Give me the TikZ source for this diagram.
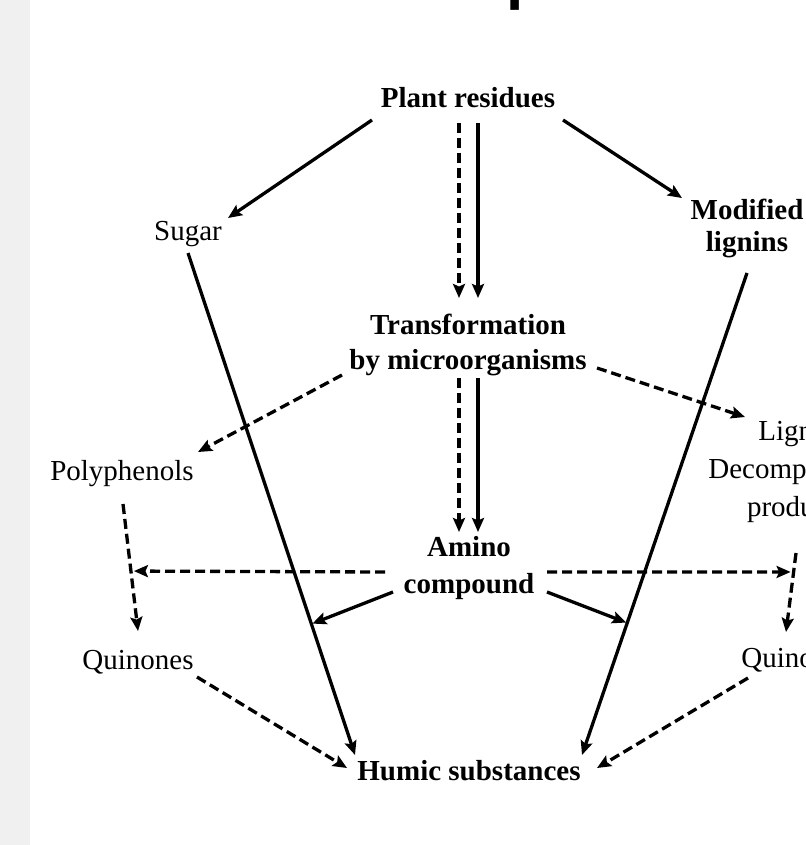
\documentclass[tikz,border=0pt]{standalone}
\usepackage{fontspec}
\setmainfont{Liberation Serif}
\newfontfamily\titlefont{Liberation Sans}
\usetikzlibrary{arrows.meta,calc}
\definecolor{stripgray}{HTML}{F0F0F0}
\begin{document}
\begin{tikzpicture}[x=1pt,y=-1pt,
  lbl/.style={inner sep=0pt, font=\fontsize{29}{33}\selectfont},
  blbl/.style={inner sep=0pt, font=\fontsize{29}{33}\selectfont\bfseries},
  conn/.style={line width=3.3pt, -{Stealth[length=14pt,width=12pt,inset=2.5pt]}},
  dconn/.style={conn, dash pattern=on 10pt off 5pt},
]
\fill[white] (0,0) rectangle (805,845);
\fill[stripgray] (0,0) rectangle (30,845);
\useasboundingbox (0,0) rectangle (805,845);
\begin{scope}
\clip (0,0) rectangle (805,845);
\node[anchor=base west, inner sep=0pt, font=\titlefont\fontsize{62}{62}\selectfont\bfseries] (title) at (506,-2) {processes};
\end{scope}

% nodes
\node[blbl, anchor=base] (pr) at (468,108) {Plant residues};
\node[lbl, anchor=base] (sugar) at (188,240) {Sugar};
\node[blbl, anchor=north, align=center, font=\fontsize{29}{32}\selectfont\bfseries] (ml) at (747,199) {Modified\\lignins};
\node[blbl, anchor=north, align=center, font=\fontsize{29}{35}\selectfont\bfseries] (tr) at (468,314) {Transformation\\by microorganisms};
\node[lbl, anchor=base] (poly) at (122,480) {Polyphenols};
\node[lbl, anchor=north, align=center, font=\fontsize{29}{38}\selectfont] (ld) at (797,421) {Lignin\\Decomposition\\products};
\node[blbl, anchor=north, align=center, font=\fontsize{29}{37}\selectfont\bfseries] (am) at (469,536) {Amino\\compound};
\node[lbl, anchor=base] (q1) at (138,669) {Quinones};
\node[lbl, anchor=base] (q2) at (797,667) {Quinones};
\node[blbl, anchor=base] (hs) at (469,780) {Humic substances};

% connectors from Plant residues
\draw[conn] ($(pr.base)+(-96,12)$) -- ($(sugar.base)+(40,-22)$);
\draw[conn] ($(pr.base)+(95,12)$) -- ($(ml.north)+(-65,-1)$);
\draw[dconn] ($(pr.base)+(-9,15)$) -- ($(tr.north)+(-9,-16)$);
\draw[conn] ($(pr.base)+(10,15)$) -- ($(tr.north)+(10,-16)$);

% from Transformation
\draw[dconn] ($(tr.north)+(-9,64)$) -- ($(am.north)+(-10,-4)$);
\draw[conn] ($(tr.north)+(10,64)$) -- ($(am.north)+(9,-4)$);
\draw[dconn] ($(tr.north)+(-126,61)$) -- ($(poly.base)+(76,-28)$);
\draw[dconn] ($(tr.north)+(129,54)$) -- ($(ld.north)+(-52,-4)$);

% long lines to Humic substances
\draw[conn] ($(sugar.base)+(0,13)$) -- coordinate[pos=0.739] (jl) ($(hs.base)+(-114,-25)$);
\draw[conn] ($(ml.north)+(0,74)$) -- coordinate[pos=0.726] (jr) ($(hs.base)+(113,-25)$);

% side chains
\draw[dconn] ($(poly.base)+(1,24)$) -- coordinate[pos=0.528] (hl) ($(q1.base)+(0,-38)$);
\draw[dconn] ($(ld.north)+(-1,132)$) -- coordinate[pos=0.24] (hr) ($(q2.base)+(-11,-35)$);
\draw[dconn] ($(q1.base)+(59,8)$) -- ($(hs.base)+(-122,-12)$);
\draw[dconn] ($(q2.base)+(-49,11)$) -- ($(hs.base)+(128,-12)$);

% from Amino compound
\draw[conn, shorten >=1pt] ($(am.north)+(-76,56)$) -- (jl);
\draw[conn, shorten >=1pt] ($(am.north)+(78,56)$) -- (jr);
\draw[dconn, shorten >=3pt] ($(am.north)+(-84,36)$) -- (hl);
\draw[dconn, shorten >=3pt] ($(am.north)+(78,36)$) -- (hr);
\end{tikzpicture}
\end{document}
